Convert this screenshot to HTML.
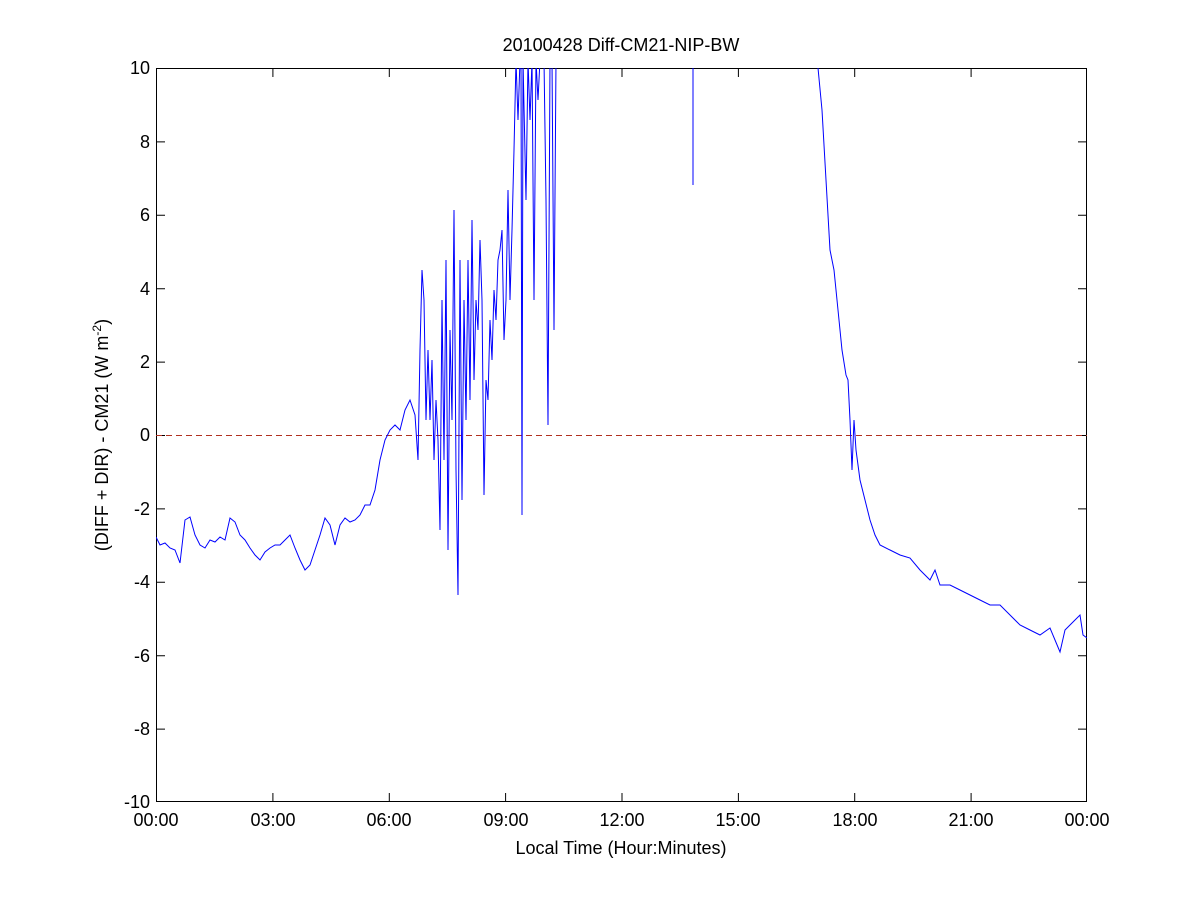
<!DOCTYPE html>
<html><head><style>body{margin:0;background:#fff}svg{display:block}text{font-family:"Liberation Sans",Arial,sans-serif;font-size:18px;fill:#000}</style></head>
<body>
<svg width="1201" height="901" viewBox="0 0 1201 901">
<rect width="1201" height="901" fill="#fff"/>
<defs><clipPath id="c"><rect x="156" y="68" width="931" height="734"/></clipPath></defs>
<g stroke="#000" stroke-width="1">
<rect x="156.5" y="68.5" width="930" height="733" fill="none"/>
<path d="M156.5 802v-9M156.5 68v9M272.9 802v-9M272.9 68v9M389.3 802v-9M389.3 68v9M505.6 802v-9M505.6 68v9M622 802v-9M622 68v9M738.4 802v-9M738.4 68v9M854.7 802v-9M854.7 68v9M971.1 802v-9M971.1 68v9M1086.5 802v-9M1086.5 68v9"/>
<path d="M156 68.5h9M1087 68.5h-9M156 141.9h9M1087 141.9h-9M156 215.3h9M1087 215.3h-9M156 288.7h9M1087 288.7h-9M156 362.1h9M1087 362.1h-9M156 435.5h9M1087 435.5h-9M156 508.9h9M1087 508.9h-9M156 582.3h9M1087 582.3h-9M156 655.7h9M1087 655.7h-9M156 729.1h9M1087 729.1h-9M156 801.5h9M1087 801.5h-9"/>
</g>
<line x1="156" y1="435.5" x2="1087" y2="435.5" stroke="#b03020" stroke-width="1" stroke-dasharray="6,4"/>
<g clip-path="url(#c)" fill="none" stroke="#0000ff" stroke-width="1">
<polyline points="156,537 160,545 165,543 170,548 175,550 180,563 185,520 190,517 195,535 200,545 205,548 210,540 215,542 220,537 225,540 230,518 235,522 240,535 245,540 250,548 255,555 260,560 265,552 270,548 275,545 280,545 285,540 290,535 295,548 300,560 305,570 310,565 315,550 320,535 325,518 330,525 335,545 340,525 345,518 350,522 355,520 360,515 365,505 370,505 375,490 380,460 385,440 390,430 395,425 400,430 405,410 410,400 415,415 418,460 420,350 422,270 424,300 426,420 428,350 430,420 432,360 434,460 436,400 438,440 440,530 442,300 444,460 446,260 448,550 450,330 452,420 454,210 456,470 458,595 460,260 462,500 464,300 466,420 468,260 470,400 472,220 474,380 476,300 478,330 480,240 482,300 484,495 486,380 488,400 490,320 492,360 494,290 496,320 498,260 500,250 502,230 504,340 506,300 508,190 510,300 512,230 514,150 516,60 518,120 520,60 521,60 522,515 523,60 526,200 528,60 530,120 532,60 534,300 536,60 538,100 540,60 544,60 546,200 548,425 550,60 552,60 554,330 556,60"/>
<polyline points="693,60 693,185"/>
<polyline points="816,60 818,68 822,110 826,180 830,250 834,270 838,310 842,350 846,375 848,380 850,420 852,470 854,420 856,450 860,480 865,500 870,520 875,535 880,545 890,550 900,555 910,558 920,570 930,580 935,570 940,585 950,585 960,590 970,595 980,600 990,605 1000,605 1010,615 1020,625 1030,630 1040,635 1050,628 1055,640 1060,652 1065,630 1070,625 1075,620 1080,615 1083,635 1087,638"/>
</g>
<g text-anchor="end">
<text x="150" y="74">10</text><text x="150" y="148">8</text><text x="150" y="221">6</text><text x="150" y="295">4</text><text x="150" y="368">2</text><text x="150" y="441">0</text><text x="150" y="515">-2</text><text x="150" y="588">-4</text><text x="150" y="662">-6</text><text x="150" y="735">-8</text><text x="150" y="808">-10</text>
</g>
<g text-anchor="middle">
<text x="156" y="826">00:00</text><text x="273" y="826">03:00</text><text x="389" y="826">06:00</text><text x="506" y="826">09:00</text><text x="622" y="826">12:00</text><text x="738" y="826">15:00</text><text x="855" y="826">18:00</text><text x="971" y="826">21:00</text><text x="1087" y="826">00:00</text>
<text x="621" y="854">Local Time (Hour:Minutes)</text>
<text x="621" y="51">20100428 Diff-CM21-NIP-BW</text>
<text transform="translate(108,435) rotate(-90)">(DIFF + DIR) - CM21 (W m<tspan dy="-7" font-size="12">-2</tspan><tspan dy="7">)</tspan></text>
</g>
</svg>
</body></html>
